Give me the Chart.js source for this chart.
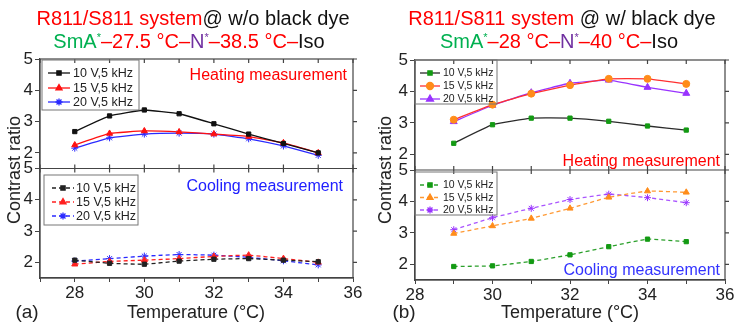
<!DOCTYPE html>
<html>
<head>
<meta charset="utf-8">
<script src="https://cdn.jsdelivr.net/npm/chart.js@4.4.0/dist/chart.umd.min.js"></script>
<style>
  body { margin: 0; width: 739px; height: 327px; background: #fff; position: relative; overflow: hidden;
         font-family: "Liberation Sans", Arial, sans-serif; color: #222; }
  canvas { position: absolute; top: 0; }
  .t { position: absolute; white-space: nowrap; transform: translate(-50%, -50%); line-height: 1; }
  .r { position: absolute; white-space: nowrap; transform: translate(-100%, -50%); line-height: 1; font-size: 16px; }
  .ttl { font-size: 20px; }
  .rot { transform: translate(-50%, -50%) rotate(-90deg); font-size: 18px; }
  sup { font-size: 11px; vertical-align: 7px; line-height: 0; }
  .red { color: #ff0000; } .grn { color: #00b050; } .pur { color: #7030a0; } .blk { color: #111; }
</style>
</head>
<body>
<canvas id="chartA" width="369" height="327" style="left:0"></canvas>
<canvas id="chartB" width="370" height="327" style="left:369px"></canvas>

<div class="t ttl" style="left:193px;top:18px"><span class="red">R811/S811 system</span><span class="blk">@ w/o black dye</span></div>
<div class="t ttl" style="left:189px;top:41px"><span class="grn">SmA<sup>*</sup></span><span class="red">–27.5 °C–</span><span class="pur">N<sup>*</sup></span><span class="red">–38.5 °C–</span><span class="blk">Iso</span></div>
<div class="t ttl" style="left:562px;top:18px"><span class="red">R811/S811 system</span><span class="blk"> @ w/ black dye</span></div>
<div class="t ttl" style="left:559px;top:41px"><span class="grn">SmA<sup>*</sup></span><span class="red">–28 °C–</span><span class="pur">N<sup>*</sup></span><span class="red">–40 °C–</span><span class="blk">Iso</span></div>

<div class="r" style="left:347px;top:75px;color:#ff0000">Heating measurement</div>
<div class="r" style="left:343px;top:186px;color:#2020ff">Cooling measurement</div>
<div class="r" style="left:720px;top:161px;color:#ff0000">Heating measurement</div>
<div class="r" style="left:720px;top:270px;color:#3333ff">Cooling measurement</div>

<div class="t rot" style="left:14px;top:170px">Contrast ratio</div>
<div class="t rot" style="left:385px;top:170px">Contrast ratio</div>
<div class="t" style="left:196px;top:312px;font-size:18px">Temperature (°C)</div>
<div class="t" style="left:570px;top:312px;font-size:18px">Temperature (°C)</div>
<div class="t" style="left:27px;top:311px;font-size:19px">(a)</div>
<div class="t" style="left:404px;top:311px;font-size:19px">(b)</div>

<script>
// ---- data ----
const tempA = [28, 29, 30, 31, 32, 33, 34, 35];
const heatA10 = [2.68, 3.18, 3.37, 3.25, 2.93, 2.6, 2.3, 2.0];
const heatA15 = [2.25, 2.62, 2.7, 2.67, 2.6, 2.52, 2.32, 2.0];
const heatA20 = [2.15, 2.48, 2.6, 2.63, 2.6, 2.45, 2.22, 1.92];
const coolA10 = [2.07, 1.97, 1.94, 2.04, 2.1, 2.12, 2.07, 2.02];
const coolA15 = [1.94, 2.03, 2.07, 2.12, 2.19, 2.23, 2.12, 2.0];
const coolA20 = [2.04, 2.12, 2.2, 2.25, 2.23, 2.16, 2.05, 1.92];

const tempB = [29, 30, 31, 32, 33, 34, 35];
const heatB10 = [2.35, 2.94, 3.15, 3.15, 3.05, 2.9, 2.77];
const heatB15 = [3.1, 3.58, 3.93, 4.2, 4.4, 4.4, 4.24];
const heatB20 = [3.04, 3.56, 3.96, 4.26, 4.36, 4.13, 3.94];
const coolB10 = [1.93, 1.95, 2.09, 2.3, 2.56, 2.8, 2.72];
const coolB15 = [2.98, 3.22, 3.46, 3.78, 4.13, 4.33, 4.29];
const coolB20 = [3.1, 3.48, 3.78, 4.06, 4.23, 4.12, 3.96];

const seriesLabels = ['10 V,5 kHz', '15 V,5 kHz', '20 V,5 kHz'];
const xTicksA = [27, 28, 29, 30, 31, 32, 33, 34, 35, 36];
const xTicksB = [28, 29, 30, 31, 32, 33, 34, 35, 36];
const yTicks = [2, 3, 4, 5];

const pts = (xs, ys) => xs.map((x, i) => ({ x: x, y: ys[i] }));

function series(label, xs, ys, axis, line, fill, shape, dashed, radius) {
    return {
        label: label,
        data: pts(xs, ys),
        yAxisID: axis,
        borderColor: line,
        borderWidth: 1.3,
        borderDash: dashed ? [4, 3] : [],
        pointStyle: shape,
        pointRadius: radius || 3,
        pointBackgroundColor: fill,
        pointBorderColor: fill,
        pointBorderWidth: 1,
        tension: 0.1
    };
}

// Box with ticks, divider between the two stacked plots
const framePlugin = {
    id: 'frame',
    afterDraw(chart, args, opts) {
        const ctx = chart.ctx, a = chart.chartArea;
        const x = chart.scales.x, yh = chart.scales.yh, yc = chart.scales.yc;
        ctx.save();
        ctx.strokeStyle = '#444';
        ctx.lineWidth = 1.2;
        ctx.strokeRect(a.left, a.top, a.right - a.left, a.bottom - a.top);
        ctx.beginPath();
        ctx.moveTo(a.left, yh.bottom); ctx.lineTo(a.right, yh.bottom);
        yTicks.forEach(v => {
            [yh, yc].forEach(s => {
                const py = s.getPixelForValue(v);
                ctx.moveTo(a.right, py); ctx.lineTo(a.right + 4, py);
            });
        });
        opts.xt.forEach(v => {
            const px = x.getPixelForValue(v);
            ctx.moveTo(px, a.top); ctx.lineTo(px, a.top + 4);
            ctx.moveTo(px, yh.bottom - 4); ctx.lineTo(px, yh.bottom + 4);
        });
        ctx.stroke();
        ctx.restore();
    }
};

// Legends drawn inside each sub-plot
const boxLegendPlugin = {
    id: 'boxLegend',
    afterDraw(chart, args, opts) {
        const ctx = chart.ctx;
        opts.boxes.forEach(b => {
            ctx.save();
            ctx.strokeStyle = '#777';
            ctx.lineWidth = 1;
            ctx.strokeRect(b.x, b.y, b.w, b.h);
            const sets = chart.data.datasets.filter(d => d.yAxisID === b.axis);
            sets.forEach((d, i) => {
                const ry = b.rows[i];
                ctx.strokeStyle = d.borderColor;
                ctx.lineWidth = 1.3;
                ctx.setLineDash(d.borderDash || []);
                ctx.beginPath();
                ctx.moveTo(b.l1, ry); ctx.lineTo(b.l2, ry);
                ctx.stroke();
                ctx.setLineDash([]);
                ctx.fillStyle = d.pointBackgroundColor;
                ctx.strokeStyle = d.pointBorderColor;
                Chart.helpers.drawPoint(ctx, { pointStyle: d.pointStyle, radius: d.pointRadius, borderWidth: 1, rotation: 0 },
                    (b.l1 + b.l2) / 2, ry);
                ctx.fillStyle = '#222';
                ctx.font = b.font + 'px "Liberation Sans", Arial, sans-serif';
                ctx.textBaseline = 'middle';
                ctx.fillText(d.label, b.tx, ry + 0.5);
            });
            ctx.restore();
        });
    }
};

function yAxis(weight) {
    return {
        type: 'linear', position: 'left', stack: 'p', stackWeight: weight,
        min: 1.5, max: 5,
        afterBuildTicks: s => { s.ticks = yTicks.map(v => ({ value: v })); },
        afterFit: s => { s.width = 30; },
        ticks: { font: { size: 17, family: '"Liberation Sans", Arial' }, color: '#222', padding: 2, autoSkip: false },
        grid: { drawOnChartArea: false, tickLength: 5, color: '#444' },
        border: { color: '#444', width: 1.2 }
    };
}

function xAxis(min, max, ticks) {
    return {
        type: 'linear', min: min, max: max,
        afterBuildTicks: s => { s.ticks = ticks.map(v => ({ value: v })); },
        afterFit: s => { s.height = 30; },
        ticks: {
            font: { size: 17, family: '"Liberation Sans", Arial' }, color: '#222', padding: 1,
            maxRotation: 0, autoSkip: false,
            callback: v => (v % 2 === 0 ? String(v) : '')
        },
        grid: { drawOnChartArea: false, tickLength: 4, color: '#444' },
        border: { color: '#444', width: 1.2 }
    };
}

function makeChart(id, datasets, xs, pad, boxes, xMin) {
    return new Chart(document.getElementById(id), {
        type: 'line',
        data: { datasets: datasets },
        options: {
            responsive: false,
            animation: false,
            layout: { padding: pad },
            plugins: {
                legend: { display: false },
                tooltip: { enabled: false },
                frame: { xt: xs },
                boxLegend: { boxes: boxes }
            },
            scales: {
                x: xAxis(xMin, 36, xs),
                yc: yAxis(1),
                yh: yAxis(1)
            }
        },
        plugins: [framePlugin, boxLegendPlugin]
    });
}

// ---- panel (a): w/o black dye ----
makeChart('chartA', [
    series(seriesLabels[0], tempA, heatA10, 'yh', '#111', '#111', 'rect', false, 3),
    series(seriesLabels[1], tempA, heatA15, 'yh', '#ff1010', '#ff1010', 'triangle', false, 3.5),
    series(seriesLabels[2], tempA, heatA20, 'yh', '#2a2aff', '#2a2aff', 'star', false, 3.5),
    series(seriesLabels[0], tempA, coolA10, 'yc', '#222', '#222', 'rect', true, 3),
    series(seriesLabels[1], tempA, coolA15, 'yc', '#ff2020', '#ff2020', 'triangle', true, 3.5),
    series(seriesLabels[2], tempA, coolA20, 'yc', '#2a2aff', '#2a2aff', 'star', true, 3.5)
], xTicksA, { left: 10, right: 16, top: 59, bottom: 19 }, [
    { axis: 'yh', x: 42, y: 60, w: 97, h: 50, rows: [73, 88, 102], l1: 48, l2: 70, tx: 73, font: 12.5 },
    { axis: 'yc', x: 44, y: 175, w: 94, h: 50, rows: [188, 202, 216], l1: 52, l2: 74, tx: 76, font: 12.5 }
], 27);

// ---- panel (b): w/ black dye ----
makeChart('chartB', [
    series(seriesLabels[0], tempB, heatB10, 'yh', '#2b2b2b', '#139a13', 'rect', false, 3),
    series(seriesLabels[1], tempB, heatB15, 'yh', '#ff3030', '#ff8c1a', 'circle', false, 3.5),
    series(seriesLabels[2], tempB, heatB20, 'yh', '#9933ff', '#9933ff', 'triangle', false, 4),
    series(seriesLabels[0], tempB, coolB10, 'yc', '#2ca02c', '#139a13', 'rect', true, 3),
    series(seriesLabels[1], tempB, coolB15, 'yc', '#ff9933', '#ff8c1a', 'triangle', true, 3.5),
    series(seriesLabels[2], tempB, coolB20, 'yc', '#aa55ff', '#9933ff', 'star', true, 3.5)
], xTicksB, { left: 16, right: 14, top: 60, bottom: 17 }, [
    { axis: 'yh', x: 46, y: 60, w: 82, h: 44, rows: [73, 86, 99], l1: 51, l2: 71, tx: 74, font: 10.5 },
    { axis: 'yc', x: 46, y: 172, w: 82, h: 43, rows: [185, 197.5, 210], l1: 51, l2: 71, tx: 74, font: 10.5 }
], 28);
</script>
</body>
</html>
